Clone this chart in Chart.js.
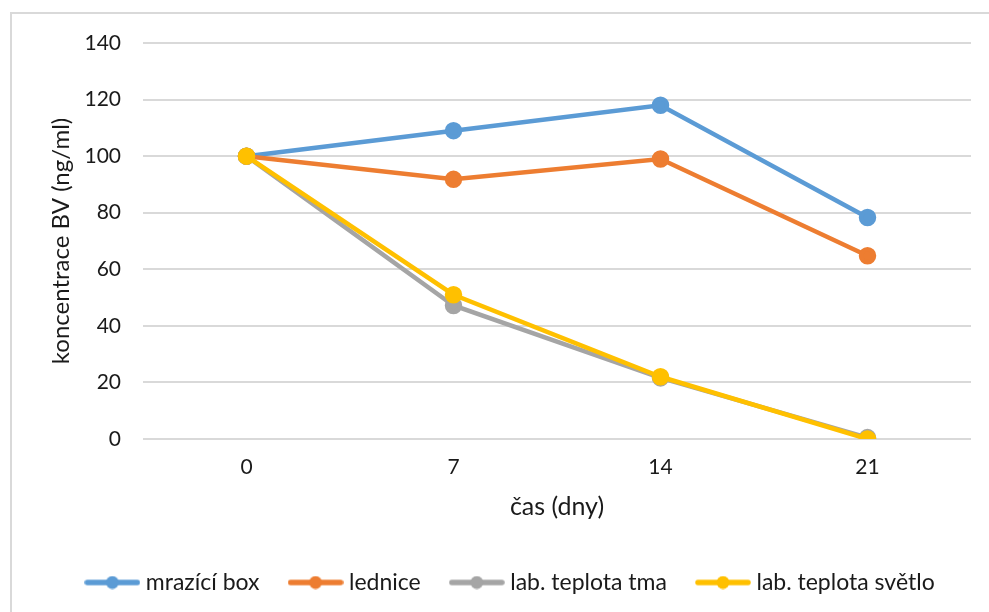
<!DOCTYPE html>
<html>
<head>
<meta charset="utf-8">
<script src="https://cdn.jsdelivr.net/npm/chart.js@4.4.1/dist/chart.umd.min.js"></script>
<style>
  html, body { margin: 0; padding: 0; background: #fff; }
  #wrap { position: relative; width: 989px; height: 612px; overflow: hidden; }
  #frame {
    position: absolute; left: 10px; top: 12px; width: 1000px; height: 700px;
    border-left: 2px solid #d9d9d9; border-top: 2px solid #d9d9d9;
    box-sizing: border-box;
  }
  #chart { position: absolute; left: 0; top: 0; }
</style>
</head>
<body>
<div id="wrap">
  <div id="frame"></div>
  <canvas id="chart" width="989" height="612"></canvas>
</div>
<script>
// Sampling days
const days = ['0', '7', '14', '21'];

// Concentration of BV (ng/ml) per storage condition
const mraziciBox = [100, 109, 118, 78.3];
const lednice = [100, 91.8, 99, 64.8];
const labTma = [100, 47.2, 21.6, 0.5];
const labSvetlo = [100, 51, 22, 0];

const yTicks = { min: 0, max: 140, step: 20 };

const FONT = 'Lato, "Open Sans", sans-serif';
const TEXT = '#1a1a1a';

// Legend marker: short line with a dot in the middle
function legendMarker(color) {
  const c = document.createElement('canvas');
  c.width = 56;
  c.height = 14;
  const g = c.getContext('2d');
  g.strokeStyle = color;
  g.lineWidth = 5.5;
  g.lineCap = 'round';
  g.beginPath();
  g.moveTo(3, 7);
  g.lineTo(53, 7);
  g.stroke();
  g.fillStyle = color;
  g.beginPath();
  g.arc(28, 7, 6.5, 0, Math.PI * 2);
  g.fill();
  return c;
}

function series(label, data, color, order) {
  return {
    label,
    data,
    borderColor: color,
    backgroundColor: color,
    pointBackgroundColor: color,
    pointBorderColor: color,
    borderWidth: 4.5,
    pointRadius: 6.5,
    pointHoverRadius: 6.5,
    tension: 0,
    order,
    pointStyle: 'circle',
    legendMarker: legendMarker(color)
  };
}

// nudge the legend row to the right
const legendShift = {
  id: 'legendShift',
  afterLayout(chart) {
    if (chart.legend) chart.legend.left += 44;
  }
};

const ctx = document.getElementById('chart').getContext('2d');
new Chart(ctx, {
  type: 'line',
  data: {
    labels: days,
    datasets: [
      series('mrazící box', mraziciBox, '#5B9BD5', 3),
      series('lednice', lednice, '#ED7D31', 2),
      series('lab. teplota tma', labTma, '#A5A5A5', 1),
      series('lab. teplota světlo', labSvetlo, '#FFC000', 0)
    ]
  },
  plugins: [legendShift],
  options: {
    responsive: false,
    animation: false,
    layout: { padding: { left: 10, right: 18, top: 43, bottom: 8 } },
    plugins: {
      tooltip: { enabled: false },
      legend: {
        position: 'bottom',
        labels: {
          usePointStyle: true,
          pointStyleWidth: 44,
          padding: 34,
          color: TEXT,
          font: { family: FONT, size: 23 },
          sort: (a, b) => a.datasetIndex - b.datasetIndex,
          generateLabels: (chart) => chart.data.datasets.map((ds, i) => ({
            text: ds.label,
            datasetIndex: i,
            pointStyle: ds.legendMarker,
            fillStyle: ds.borderColor,
            strokeStyle: ds.borderColor,
            lineWidth: 0,
            fontColor: TEXT,
            hidden: false
          }))
        }
      }
    },
    scales: {
      x: {
        offset: true,
        grid: { display: false, drawTicks: false },
        border: { display: false },
        ticks: { color: TEXT, font: { family: FONT, size: 21 }, padding: 16 },
        title: {
          display: true,
          text: 'čas (dny)',
          color: TEXT,
          font: { family: FONT, size: 25 },
          padding: { top: 4, bottom: 15 }
        },
        afterFit: (scale) => { scale.height = 98; }
      },
      y: {
        min: yTicks.min,
        max: yTicks.max,
        grid: { color: '#d9d9d9', lineWidth: 2, drawTicks: false },
        border: { display: false },
        ticks: {
          stepSize: yTicks.step,
          color: TEXT,
          font: { family: FONT, size: 21 },
          padding: 22
        },
        title: {
          display: true,
          text: 'koncentrace BV (ng/ml)',
          color: TEXT,
          font: { family: FONT, size: 24 },
          padding: { top: 37, bottom: 4 }
        },
        afterFit: (scale) => { scale.width = 133; }
      }
    }
  }
});
</script>
</body>
</html>
